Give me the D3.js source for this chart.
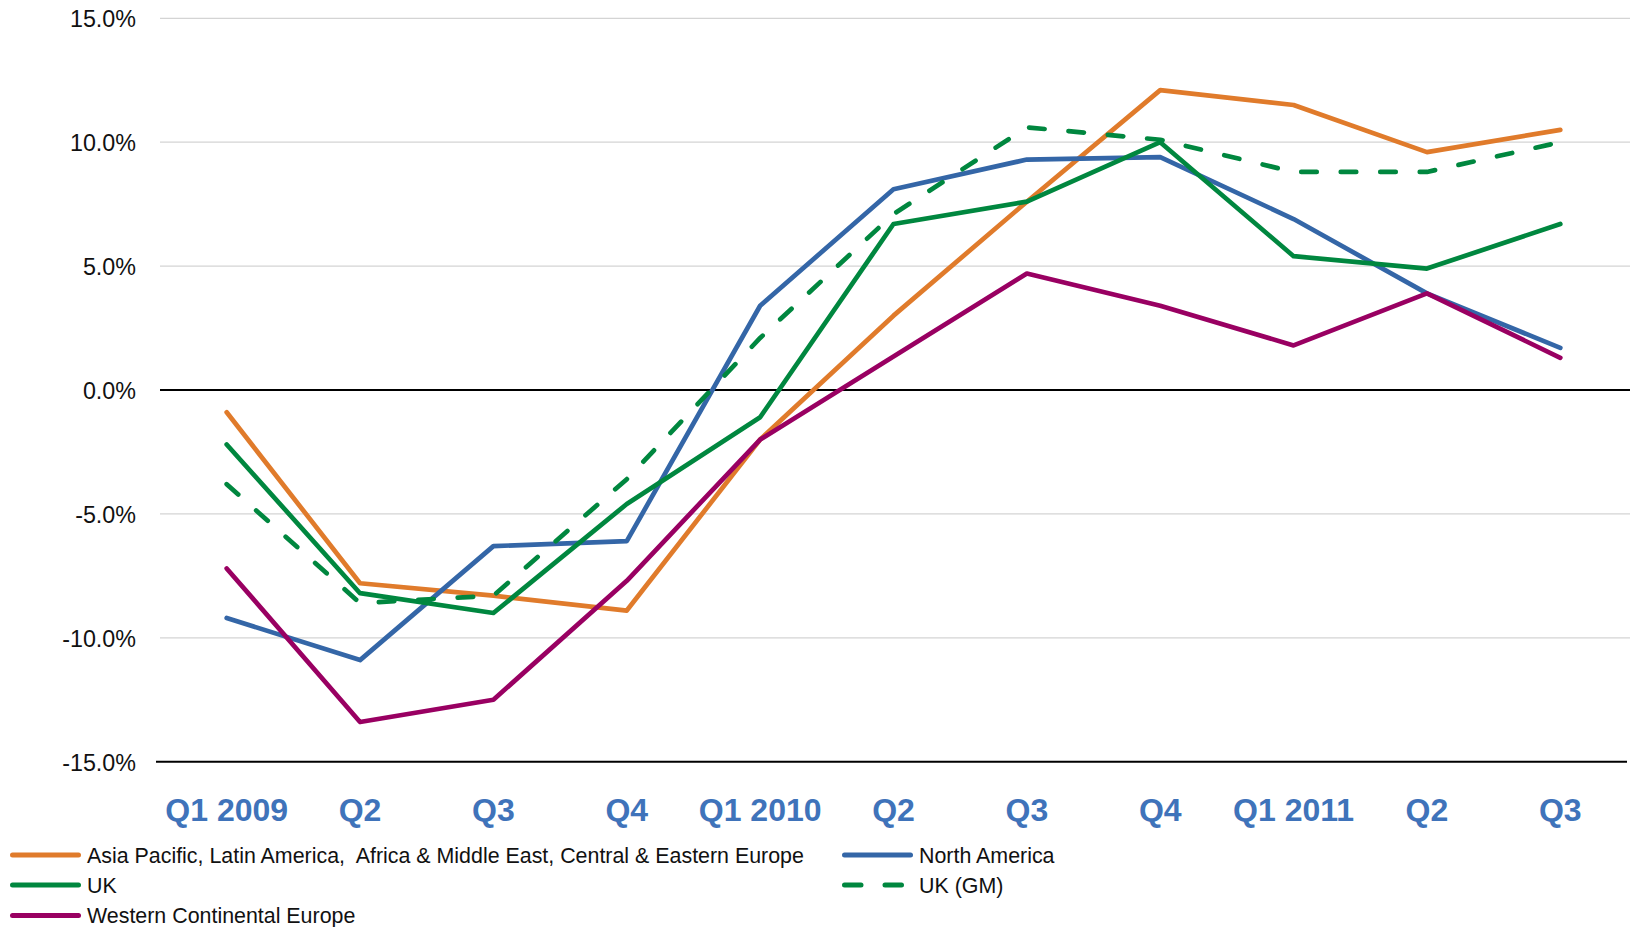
<!DOCTYPE html>
<html>
<head>
<meta charset="utf-8">
<script src="https://cdn.jsdelivr.net/npm/d3@7"></script>
<style>
  html, body { margin: 0; padding: 0; background: #fff; }
  svg { display: block; }
</style>
</head>
<body>
<svg id="chart" width="1632" height="927"></svg>
<script>
// ---- Data ----
const categories = ["Q1 2009", "Q2", "Q3", "Q4", "Q1 2010", "Q2", "Q3", "Q4", "Q1 2011", "Q2", "Q3"];
const yTicks = [15, 10, 5, 0, -5, -10, -15];

const asiaPacific = [-0.9, -7.8, -8.3, -8.9, -2.0, 3.0, 7.6, 12.1, 11.5, 9.6, 10.5];
const northAmerica = [-9.2, -10.9, -6.3, -6.1, 3.4, 8.1, 9.3, 9.4, 6.9, 3.9, 1.7];
const uk = [-2.2, -8.2, -9.0, -4.6, -1.1, 6.7, 7.6, 10.0, 5.4, 4.9, 6.7];
const ukGM = [-3.8, -8.6, -8.3, -3.6, 2.1, 7.1, 10.6, 10.1, 8.8, 8.8, 10.0];
const westernEurope = [-7.2, -13.4, -12.5, -7.7, -2.0, 1.35, 4.7, 3.4, 1.8, 3.9, 1.3];

const seriesNames = [
  "Asia Pacific, Latin America,  Africa & Middle East, Central & Eastern Europe",
  "North America",
  "UK",
  "UK (GM)",
  "Western Continental Europe"
];
const seriesValues = [asiaPacific, northAmerica, uk, ukGM, westernEurope];
const seriesColors = ["#E07B2B", "#3466A7", "#00873F", "#00873F", "#990062"];
const seriesDashed = [false, false, false, true, false];

// ---- Layout ----
const svg = d3.select("#chart");
const plotLeft = 160, plotRight = 1627, plotTop = 18.3, plotBottom = 761.7;

const x = d3.scaleBand().domain(d3.range(categories.length)).range([plotLeft, plotRight]);
const y = d3.scaleLinear().domain([-15, 15]).range([plotBottom, plotTop]);

// gridlines
svg.append("g").selectAll("line")
  .data(yTicks.filter(t => t !== 0 && t !== -15))
  .join("line")
  .attr("x1", plotLeft).attr("x2", 1630)
  .attr("y1", d => y(d)).attr("y2", d => y(d))
  .attr("stroke", "#d4d4d4").attr("stroke-width", 1.2);

// zero line
svg.append("line")
  .attr("x1", plotLeft).attr("x2", 1630)
  .attr("y1", y(0)).attr("y2", y(0))
  .attr("stroke", "#000").attr("stroke-width", 2);

// y axis labels
const yAxis = d3.axisLeft(y).tickValues(yTicks).tickFormat(d => d.toFixed(1) + "%").tickSize(0).tickPadding(0);
const yg = svg.append("g").attr("transform", "translate(136,0)").call(yAxis);
yg.select(".domain").remove();
yg.selectAll("text")
  .attr("font-family", "'Liberation Sans', Arial, sans-serif")
  .attr("font-size", 23.3)
  .attr("fill", "#111")
  .attr("dy", "0.36em");

// bottom axis line
svg.append("line")
  .attr("x1", 156).attr("x2", 1627)
  .attr("y1", y(-15)).attr("y2", y(-15))
  .attr("stroke", "#000").attr("stroke-width", 2);

// x axis labels
const xAxis = d3.axisBottom(x).tickFormat(i => categories[i]).tickSize(0).tickPadding(0);
const xg = svg.append("g").call(xAxis);
xg.select(".domain").remove();
xg.selectAll("text")
  .attr("y", 821).attr("dy", 0)
  .attr("font-family", "'Liberation Sans', Arial, sans-serif")
  .attr("font-weight", "bold")
  .attr("font-size", 32)
  .attr("fill", "#3F73BA");

// lines
const line = d3.line().x((d, i) => x(i) + x.bandwidth() / 2).y(d => y(d));
seriesValues.forEach((vals, k) => {
  svg.append("path")
    .datum(vals)
    .attr("d", line)
    .attr("fill", "none")
    .attr("stroke", seriesColors[k])
    .attr("stroke-width", 4.7)
    .attr("stroke-linecap", "round")
    .attr("stroke-linejoin", "round")
    .attr("stroke-dasharray", seriesDashed[k] ? "15.5,24" : null);
});

// legend
const legendPos = [
  [10, 855], [842, 855], [10, 885], [842, 885], [10, 915.5]
];
const lg = svg.append("g");
seriesNames.forEach((name, k) => {
  const [lx, ly] = legendPos[k];
  lg.append("line")
    .attr("x1", lx + 2.5).attr("x2", lx + 68.5)
    .attr("y1", ly).attr("y2", ly)
    .attr("stroke", seriesColors[k])
    .attr("stroke-width", 5)
    .attr("stroke-linecap", "round")
    .attr("stroke-dasharray", seriesDashed[k] ? "16.5,24" : null);
  lg.append("text")
    .attr("x", lx + 77).attr("y", ly + 7.5)
    .attr("font-family", "'Liberation Sans', Arial, sans-serif")
    .attr("font-size", 21.4)
    .attr("fill", "#111")
    .style("white-space", "pre")
    .text(name);
});
</script>
</body>
</html>
